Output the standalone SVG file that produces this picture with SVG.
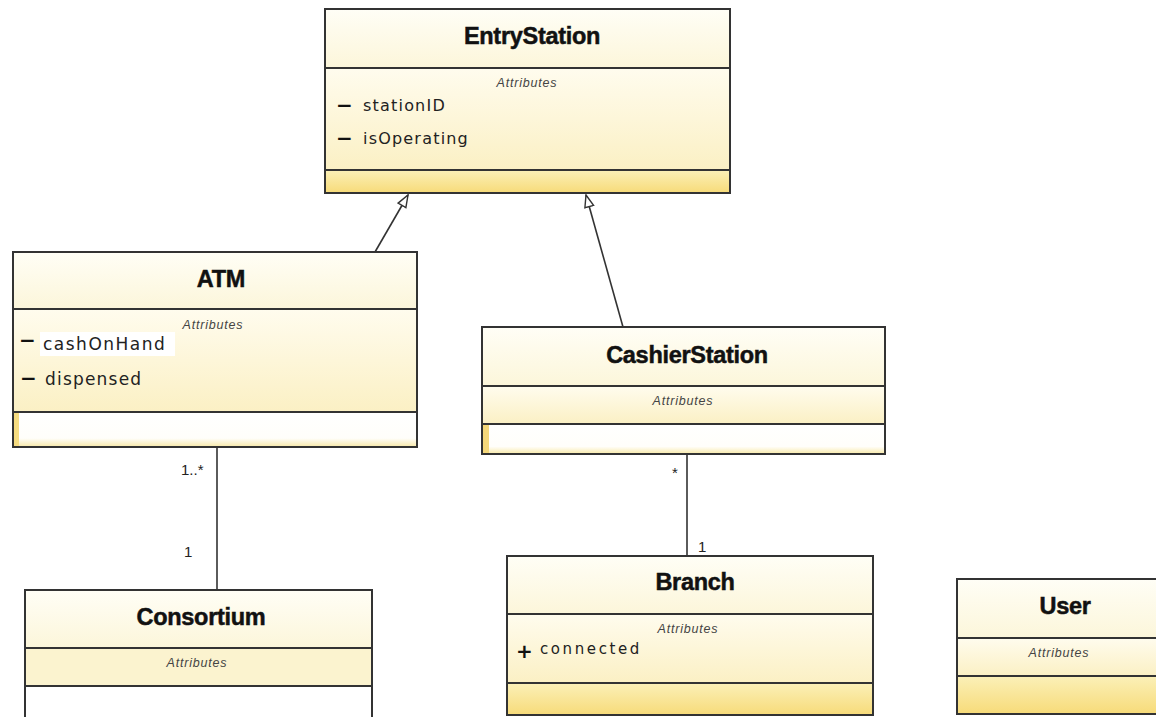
<svg xmlns="http://www.w3.org/2000/svg" width="1156" height="717" viewBox="0 0 1156 717">
<defs>
<linearGradient id="gName" x1="0" y1="0" x2="0" y2="1"><stop offset="0" stop-color="#fffef6"/><stop offset="1" stop-color="#fcf6da"/></linearGradient>
<linearGradient id="gAttr" x1="0" y1="0" x2="0" y2="1"><stop offset="0" stop-color="#fffcee"/><stop offset="1" stop-color="#fbf0c4"/></linearGradient>
<linearGradient id="gOps" x1="0" y1="0" x2="0" y2="1"><stop offset="0" stop-color="#fbf0b8"/><stop offset="1" stop-color="#f7db79"/></linearGradient>
<linearGradient id="gWhite" x1="0" y1="0" x2="0" y2="1"><stop offset="0" stop-color="#ffffff"/><stop offset="0.75" stop-color="#fffefa"/><stop offset="1" stop-color="#f8e9a8"/></linearGradient>
<marker id="tri" viewBox="0 0 14 12" refX="13" refY="6" markerWidth="14" markerHeight="12" markerUnits="userSpaceOnUse" orient="auto">
<path d="M1,1.5 L13,6 L1,10.5 Z" fill="#fff" stroke="#333" stroke-width="1.4"/>
</marker>
</defs>
<style>
.box{stroke:#333;stroke-width:2;}
.div{stroke:#333;stroke-width:2;}
.title{font-family:"Liberation Sans",Arial,sans-serif;font-weight:bold;font-size:23.5px;fill:#111;stroke:#111;stroke-width:0.5;letter-spacing:-0.3px;text-anchor:middle;}
.hdr{font-family:"Liberation Sans",Arial,sans-serif;font-style:italic;font-size:12.5px;fill:#444;text-anchor:middle;letter-spacing:0.8px;}
.attr{font-family:"DejaVu Sans",sans-serif;font-size:16px;fill:#222;letter-spacing:1.2px;}
.vis{font-family:"DejaVu Sans",sans-serif;font-weight:bold;font-size:20px;fill:#111;}
.mult{font-family:"Liberation Sans",Arial,sans-serif;font-size:15px;fill:#222;}
.edge{stroke:#333;stroke-width:1.6;fill:none;}
</style>
<rect width="1156" height="717" fill="#ffffff"/>

<g id="connectors">
<line class="edge" x1="375" y1="252" x2="408" y2="195" marker-end="url(#tri)"/>
<line class="edge" x1="623" y1="327" x2="586" y2="195" marker-end="url(#tri)"/>
<line class="edge" x1="217" y1="447" x2="217" y2="590"/>
<line class="edge" x1="687" y1="454" x2="687" y2="556"/>
<text class="mult" x="181" y="475">1..*</text>
<text class="mult" x="184" y="557">1</text>
<text class="mult" x="672" y="478">*</text>
<text class="mult" x="698" y="552">1</text>
</g>

<g id="EntryStation">
<rect x="325" y="9" width="405" height="59" fill="url(#gName)"/>
<rect x="325" y="68" width="405" height="102" fill="url(#gAttr)"/>
<rect x="325" y="170" width="405" height="23" fill="url(#gOps)"/>
<rect class="box" x="325" y="9" width="405" height="184" fill="none"/>
<line class="div" x1="325" y1="68" x2="730" y2="68"/>
<line class="div" x1="325" y1="170" x2="730" y2="170"/>
<text class="title" x="532" y="44">EntryStation</text>
<text class="hdr" x="527" y="87">Attributes</text>
<text class="vis" x="336" y="112">−</text>
<text class="attr" x="363" y="111">stationID</text>
<text class="vis" x="336" y="145">−</text>
<text class="attr" x="363" y="144">isOperating</text>
</g>

<g id="ATM">
<rect x="13" y="252" width="404" height="57" fill="url(#gName)"/>
<rect x="13" y="309" width="404" height="103" fill="url(#gAttr)"/>
<rect x="13" y="412" width="404" height="35" fill="url(#gWhite)"/>
<rect x="13" y="412" width="6" height="35" fill="#f6dc80"/>
<rect x="40" y="332" width="135" height="24" fill="#ffffff"/>
<rect class="box" x="13" y="252" width="404" height="195" fill="none"/>
<line class="div" x1="13" y1="309" x2="417" y2="309"/>
<line class="div" x1="13" y1="412" x2="417" y2="412"/>
<text class="title" x="221" y="287">ATM</text>
<text class="hdr" x="213" y="329">Attributes</text>
<text class="vis" x="19" y="347">−</text>
<text class="attr" x="43" y="350" style="font-size:17px;letter-spacing:1.5px">cashOnHand</text>
<text class="vis" x="20" y="385">−</text>
<text class="attr" x="45" y="385" style="font-size:17px;letter-spacing:1.2px">dispensed</text>
</g>

<g id="CashierStation">
<rect x="482" y="327" width="403" height="59" fill="url(#gName)"/>
<rect x="482" y="386" width="403" height="38" fill="url(#gAttr)"/>
<rect x="482" y="424" width="403" height="30" fill="url(#gWhite)"/>
<rect x="483" y="424" width="6" height="30" fill="#f4d77a"/>
<rect class="box" x="482" y="327" width="403" height="127" fill="none"/>
<line class="div" x1="482" y1="386" x2="885" y2="386"/>
<line class="div" x1="482" y1="424" x2="885" y2="424"/>
<text class="title" x="687" y="363">CashierStation</text>
<text class="hdr" x="683" y="405">Attributes</text>
</g>

<g id="Consortium">
<rect x="25" y="590" width="347" height="58" fill="url(#gName)"/>
<rect x="25" y="648" width="347" height="38" fill="#fbf3cf"/>
<rect x="25" y="686" width="347" height="40" fill="#ffffff"/>
<rect class="box" x="25" y="590" width="347" height="140" fill="none"/>
<line class="div" x1="25" y1="648" x2="372" y2="648"/>
<line class="div" x1="25" y1="686" x2="372" y2="686"/>
<text class="title" x="201" y="625">Consortium</text>
<text class="hdr" x="197" y="667">Attributes</text>
</g>

<g id="Branch">
<rect x="507" y="556" width="366" height="58" fill="url(#gName)"/>
<rect x="507" y="614" width="366" height="69" fill="url(#gAttr)"/>
<rect x="507" y="683" width="366" height="32" fill="url(#gOps)"/>
<rect class="box" x="507" y="556" width="366" height="159" fill="none"/>
<line class="div" x1="507" y1="614" x2="873" y2="614"/>
<line class="div" x1="507" y1="683" x2="873" y2="683"/>
<text class="title" x="695" y="590">Branch</text>
<text class="hdr" x="688" y="633">Attributes</text>
<text class="vis" x="516" y="658">+</text>
<text class="attr" x="540" y="654" style="font-size:15px;letter-spacing:2.6px">connected</text>
</g>

<g id="User">
<rect x="957" y="579" width="210" height="59" fill="url(#gName)"/>
<rect x="957" y="638" width="210" height="38" fill="url(#gAttr)"/>
<rect x="957" y="676" width="210" height="38" fill="url(#gOps)"/>
<rect class="box" x="957" y="579" width="210" height="135" fill="none"/>
<line class="div" x1="957" y1="638" x2="1156" y2="638"/>
<line class="div" x1="957" y1="676" x2="1156" y2="676"/>
<text class="title" x="1065" y="614">User</text>
<text class="hdr" x="1059" y="657">Attributes</text>
</g>
</svg>
